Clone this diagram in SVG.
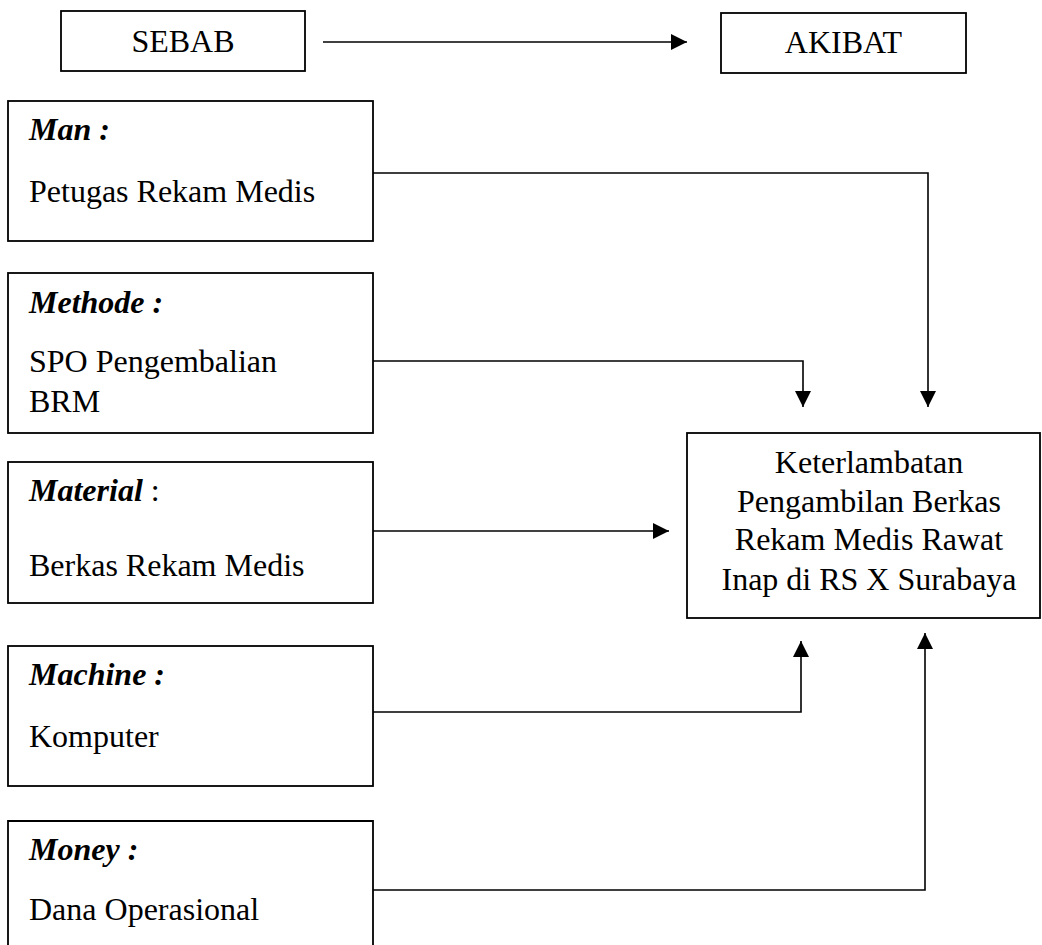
<svg xmlns="http://www.w3.org/2000/svg" width="1042" height="945" viewBox="0 0 1042 945">
<style>
.box{fill:#fff;stroke:#000;stroke-width:1.8}
.t{font-family:"Liberation Serif","Times New Roman",serif;font-size:32px;fill:#000}
.h{font-weight:bold;font-style:italic}
.c{fill:none;stroke:#000;stroke-width:1.6}
</style>
<defs>
<marker id="ah" markerUnits="userSpaceOnUse" markerWidth="17" markerHeight="17" refX="16" refY="8" orient="auto">
<path d="M0,0 L16,8 L0,16 Z" fill="#000"/>
</marker>
</defs>
<g id="sebab"><rect class="box" x="61" y="11" width="244" height="60"/><text class="t" x="183" y="52" text-anchor="middle">SEBAB</text></g>
<g id="akibat"><rect class="box" x="721" y="13" width="245" height="60"/><text class="t" x="843.5" y="53" text-anchor="middle">AKIBAT</text></g>
<g id="man"><rect class="box" x="8" y="101" width="365" height="140"/><text class="t h" x="29" y="140">Man :</text><text class="t" x="29" y="202">Petugas Rekam Medis</text></g>
<g id="methode"><rect class="box" x="8" y="273" width="365" height="160"/><text class="t h" x="29" y="313">Methode :</text><text class="t" x="29" y="372">SPO Pengembalian</text><text class="t" x="29" y="412">BRM</text></g>
<g id="material"><rect class="box" x="8" y="462" width="365" height="141"/><text class="t" x="29" y="501"><tspan class="h">Material</tspan> :</text><text class="t" x="29" y="576">Berkas Rekam Medis</text></g>
<g id="machine"><rect class="box" x="8" y="646" width="365" height="140"/><text class="t h" x="29" y="685">Machine :</text><text class="t" x="29" y="747">Komputer</text></g>
<g id="money"><path class="box" d="M8,946 V821 H373 V946"/><text class="t h" x="29" y="860">Money :</text><text class="t" x="29" y="920">Dana Operasional</text></g>
<g id="effect"><rect class="box" x="687" y="433" width="353" height="185"/>
<text class="t" text-anchor="middle"><tspan x="869" y="473">Keterlambatan</tspan><tspan x="869" y="512">Pengambilan Berkas</tspan><tspan x="869" y="550">Rekam Medis Rawat</tspan><tspan x="869" y="590">Inap di RS X Surabaya</tspan></text></g>
<g id="connectors">
<path class="c" d="M323,42 H687" stroke-width="2.2" marker-end="url(#ah)"/>
<path class="c" d="M373,173 H928 V407" marker-end="url(#ah)"/>
<path class="c" d="M373,361 H803 V407" marker-end="url(#ah)"/>
<path class="c" d="M373,531 H669" marker-end="url(#ah)"/>
<path class="c" d="M373,712 H801 V641" marker-end="url(#ah)"/>
<path class="c" d="M373,890 H925 V633" marker-end="url(#ah)"/>
</g>
</svg>
